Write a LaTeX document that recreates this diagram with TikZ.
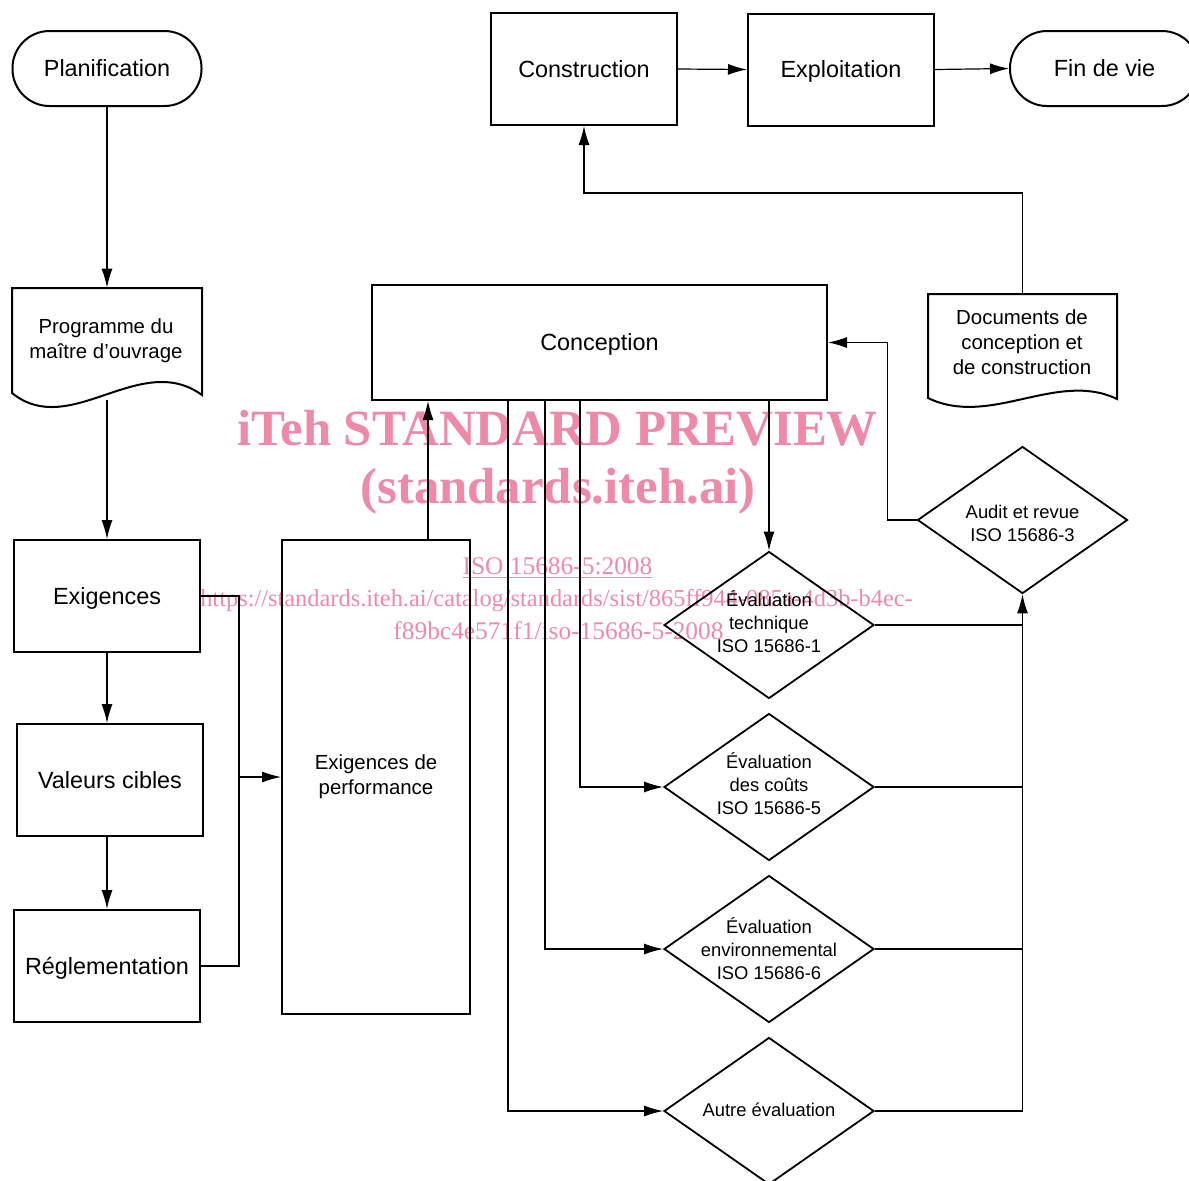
\documentclass[tikz,border=0pt]{standalone}
\usepackage{fontspec}
\setmainfont{Liberation Sans}
\newfontfamily\wmfont{Liberation Serif}
\usetikzlibrary{shapes.geometric,arrows.meta,calc}
\definecolor{wmpink}{RGB}{238,138,168}
\tikzset{
  box/.style={draw,line width=1pt,rectangle,minimum width=93pt,minimum height=56pt,inner sep=0pt,text height=8.4pt,text depth=0pt,font=\fontsize{11.7}{14}\selectfont},
  term/.style={draw,line width=1pt,rectangle,rounded corners=18.5pt,minimum width=94.5pt,minimum height=37.5pt,inner sep=0pt,text height=8.4pt,text depth=0pt,font=\fontsize{11.7}{14}\selectfont},
  docarea/.style={rectangle,minimum width=95pt,minimum height=60pt,inner sep=0pt},
  doctext/.style={align=center,font=\fontsize{10.2}{12.5}\selectfont},
  diam/.style={draw,line width=0.9pt,diamond,minimum width=105pt,minimum height=73.5pt,inner sep=0pt},
  dtext/.style={align=center,font=\fontsize{9.2}{11.5}\selectfont},
  conn/.style={line width=0.6pt},
  arr/.style={line width=0.6pt,-{Latex[length=9.5pt,width=5.5pt]}},
  wm/.style={text=wmpink,inner sep=0pt},
}
\begin{document}
\begin{tikzpicture}[x=0.5pt,y=-0.5pt]
\useasboundingbox (0,0) rectangle (1189,1180);
% watermark
\node[wm,font=\wmfont\bfseries\fontsize{25.4}{30}\selectfont] (wm1) at (557.5,428) {iTeh STANDARD PREVIEW};
\node[wm,font=\wmfont\bfseries\fontsize{25.4}{30}\selectfont] (wm2) at (558,491) {(standards.iteh.ai)};
\node[wm,font=\wmfont\fontsize{12.7}{15}\selectfont] (wm3) at (557.5,568) {\underline{ISO 15686-5:2008}};
\node[wm,font=\wmfont\fontsize{12.2}{15}\selectfont] (wm4) at (556.5,601) {https://standards.iteh.ai/catalog/standards/sist/865ff944-085a-4d3b-b4ec-};
\node[wm,font=\wmfont\fontsize{12.7}{15}\selectfont] (wm5) at (558.5,631) {f89bc4e571f1/iso-15686-5-2008};

% left column
\node[term] (plan) at (107,68.5) {Planification};
\node[docarea] (prog) at (107,348) {};
\draw[line width=1pt] (12,288) -- (202,288) -- (202,395) .. controls (140,350) and (70,440) .. (12,393) -- cycle;
\node[doctext] (progt) at (106,341) {Programme du\\maître d'ouvrage};
\node[box] (exig) at (107,596) {Exigences};
\node[box] (val) at (110,780) {Valeurs cibles};
\node[box] (regl) at (107,966) {Réglementation};
\node[draw,line width=1pt,rectangle,inner sep=0pt,minimum width=94pt,minimum height=237pt,font=\fontsize{10.2}{12.5}\selectfont,align=center] (perf) at (376,777) {Exigences de\\performance};

% top row
\node[box] (constr) at (584,69) {Construction};
\node[box] (expl) at (841,69.5) {Exploitation};
\node[term] (fin) at (1104.5,68.5) {Fin de vie};
\node[box,minimum width=227.5pt,minimum height=57.5pt] (conc) at (599.5,342.5) {Conception};

% documents
\node[docarea] (docs) at (1022.5,354) {};
\draw[line width=1pt] (928,294) -- (1117,294) -- (1117,399) .. controls (1057,370) and (990,428) .. (928,398) -- cycle;
\node[doctext] (docst) at (1022,342) {Documents de\\conception et\\de construction};

% diamonds
\node[diam,label={[dtext,yshift=1.5pt]center:Évaluation\\technique\\ISO 15686-1}] (tech) at (769,625) {};
\node[diam,label={[dtext,yshift=1.5pt]center:Évaluation\\des coûts\\ISO 15686-5}] (cout) at (769,787) {};
\node[diam,label={[dtext]center:Évaluation\\environnemental\\ISO 15686-6}] (env) at (769,949) {};
\node[diam,label={[dtext,yshift=0.5pt]center:Autre évaluation}] (autre) at (769,1111) {};
\node[diam,label={[dtext,yshift=-1.5pt]center:Audit et revue\\ISO 15686-3}] (audit) at (1022.5,520) {};

% connectors left
\draw[arr] (plan.south) -- (prog.north);
\draw[arr] (prog.south |- 0,400) coordinate (progb) -- (exig.north);
\draw[arr] (exig.south) -- (exig.south |- val.north);
\draw[arr] (exig.south |- val.south) -- (regl.north);
\draw[conn] (exig.east) -- ++(38,0) coordinate (bus) |- (regl.east);
\draw[arr] (bus |- perf.west) -- (perf.west);
\draw[arr] ([xshift=26pt]perf.north) -- ([xshift=26pt]perf.north |- conc.south);

% connectors from conception
\draw[arr] ([xshift=68.5pt]conc.south west) |- (autre.west);
\draw[arr] ([xshift=87pt]conc.south west) |- (env.west);
\draw[arr] ([xshift=104.5pt]conc.south west) |- (cout.west);
\draw[arr] (tech.north |- conc.south) -- (tech.north);

% to audit
\draw[conn] (tech.east) -- (tech.east -| audit.south);
\draw[conn] (cout.east) -- (cout.east -| audit.south);
\draw[conn] (env.east) -- (env.east -| audit.south);
\draw[arr] (autre.east) -| (audit.south);
\draw[arr] (audit.west) -- ++(-29,0) |- (conc.east);

% top connectors
\draw[arr] (docs.north |- 0,294) -- ++(0,-101) -| (constr.south);
\draw[arr] (constr.east) -- (expl.west);
\draw[arr] (expl.east) -- (fin.west);
\end{tikzpicture}
\end{document}
